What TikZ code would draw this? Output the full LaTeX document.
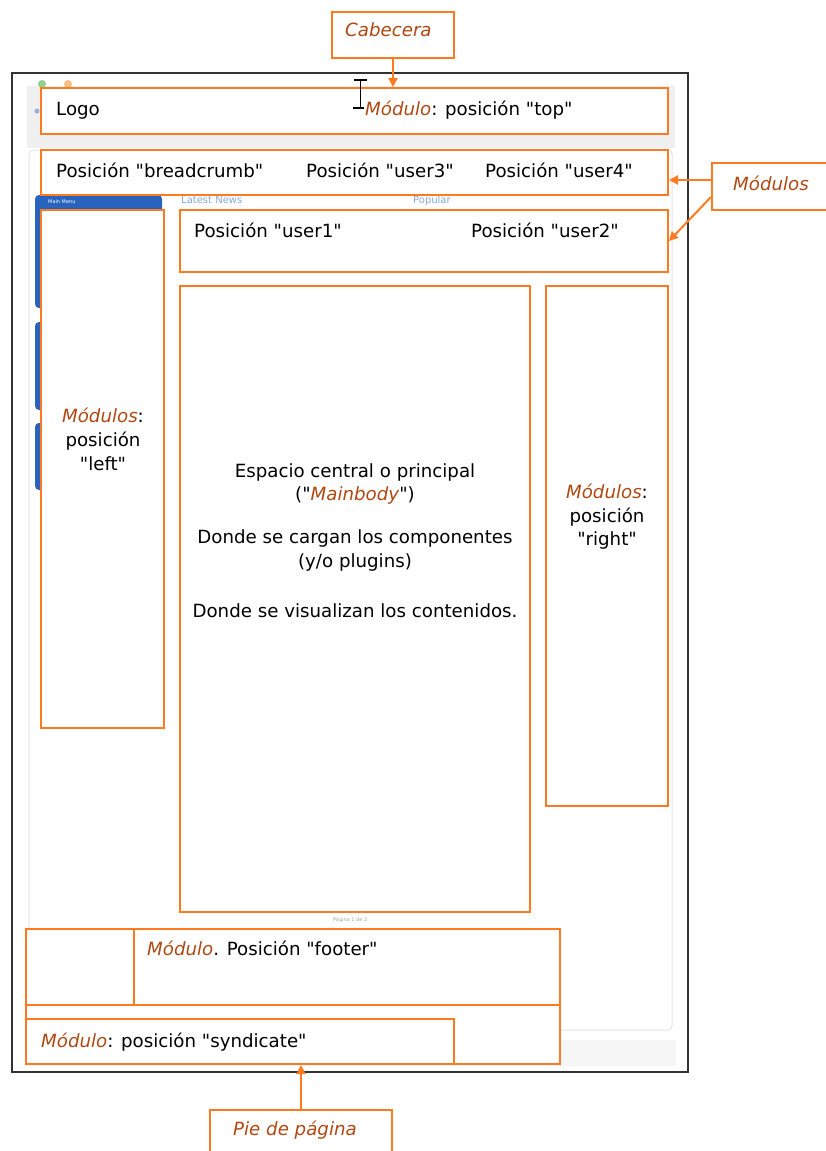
\documentclass[tikz,border=0pt]{standalone}
\usepackage{fontspec}
\setmainfont{DejaVu Sans}[Ligatures=TeXOff]
\usetikzlibrary{arrows.meta}
\definecolor{orng}{RGB}{255,122,32}
\definecolor{brwn}{RGB}{176,72,18}
\definecolor{menublue}{RGB}{40,100,190}
\newcommand{\brit}[1]{\textcolor{brwn}{\textit{#1}}}
\begin{document}
\begin{tikzpicture}[x=1pt,y=-1pt,
  obox/.style={draw=orng, line width=2pt, fill=white, inner sep=0pt},
  txt/.style={inner sep=0pt, anchor=base west, font=\fontsize{18.2}{23.5}\selectfont},
  ctxt/.style={txt, anchor=base},
  arr/.style={draw=orng, line width=2pt, -{Triangle[length=9pt,width=9pt]}},
  tiny/.style={inner sep=0pt, anchor=base west}]
\useasboundingbox[fill=white] (0,0) rectangle (825,1151);
% background screenshot hints
\fill[gray!12] (27,86) rectangle (675,148);
\draw[gray!22, line width=1pt, rounded corners=4pt] (29,150) rectangle (672,1030);
\fill[gray!7] (27,1040) rectangle (676,1066);
\fill[green!60!black!45] (42,84) circle (4);
\fill[orange!50] (68,84) circle (4);
\fill[menublue!50] (37,111) circle (2.5);
\fill[menublue, rounded corners=4pt] (35,195) rectangle (162,308);
\fill[menublue, rounded corners=4pt] (35,322) rectangle (162,410);
\fill[menublue, rounded corners=4pt] (35,423) rectangle (162,490);
\node[tiny, text=white, font=\fontsize{5}{6}\selectfont] (mm) at (48,203) {Main Menu};
\node[tiny, text=menublue!55, font=\fontsize{10}{12}\selectfont] (ln) at (181,203) {Latest News};
\node[tiny, text=menublue!55, font=\fontsize{10}{12}\selectfont] (pp) at (413,203) {Popular};
\node[tiny, text=gray!70, font=\fontsize{5}{6}\selectfont] (pg) at (333,921) {Página 1 de 2};
% page frame
\draw[black!80, line width=2pt] (12,73) rectangle (688,1072);
% callout boxes
\node[obox, minimum width=122pt, minimum height=46pt] (cab) at (393,35) {};
\node[obox, minimum width=128pt, minimum height=47pt] (mods) at (776,186.5) {};
\node[obox, minimum width=182pt, minimum height=55pt] (pie) at (301,1137.5) {};
% layout boxes
\node[obox, minimum width=627pt, minimum height=46pt] (top) at (354.5,111) {};
\node[obox, minimum width=627pt, minimum height=45pt] (bread) at (354.5,172.5) {};
\node[obox, minimum width=488pt, minimum height=62pt] (users) at (424,241) {};
\node[obox, minimum width=123pt, minimum height=518pt] (left) at (102.5,469) {};
\node[obox, minimum width=350pt, minimum height=626pt] (main) at (355,599) {};
\node[obox, minimum width=122pt, minimum height=520pt] (right) at (607,546) {};
\node[obox, minimum width=534pt, minimum height=135pt] (piearea) at (293,996.5) {};
\draw[draw=orng, line width=2pt] (piearea.west |- 0,1005) -- (piearea.east |- 0,1005);
\node[obox, minimum width=426pt, minimum height=76pt] (foot) at (347,967) {};
\node[obox, minimum width=428pt, minimum height=45pt] (synd) at (240,1041.5) {};
% cursor
\draw[black, line width=1.3pt] (354,80) -- (367,80) (360.5,80) -- (360.5,108) (353,108) -- (364,108);
% texts
\node[txt] (tcab) at (345,36) {\brit{Cabecera}};
\node[txt] (tmods) at (733,190) {\brit{Módulos}};
\node[txt] (tpie) at (233,1135) {\brit{Pie de página}};
\node[txt] (tlogo) at (56,115) {Logo};
\node[txt] (ttop) at (365,115) {\brit{Módulo}: posición "top"};
\node[txt] (tbread) at (56,177) {Posición "breadcrumb"};
\node[txt] (tu3) at (306,177) {Posición "user3"};
\node[txt] (tu4) at (485,177) {Posición "user4"};
\node[txt] (tu1) at (194,237) {Posición "user1"};
\node[txt] (tu2) at (471,237) {Posición "user2"};
\node[ctxt] (tl1) at (103,422) {\brit{Módulos}:};
\node[ctxt] (tl2) at (103,446) {posición};
\node[ctxt] (tl3) at (103,470) {"left"};
\node[ctxt] (tr1) at (607,498) {\brit{Módulos}:};
\node[ctxt] (tr2) at (607,522) {posición};
\node[ctxt] (tr3) at (607,545) {"right"};
\node[ctxt] (tm1) at (355,477) {Espacio central o principal};
\node[ctxt] (tm2) at (355,500) {("\brit{Mainbody}")};
\node[ctxt] (tm3) at (355,543) {Donde se cargan los componentes};
\node[ctxt] (tm4) at (355,567) {(y/o plugins)};
\node[ctxt] (tm5) at (355,617) {Donde se visualizan los contenidos.};
\node[txt] (tfoot) at (147,955) {\brit{Módulo}. Posición "footer"};
\node[txt] (tsynd) at (41,1047) {\brit{Módulo}: posición "syndicate"};
% arrows
\draw[arr] (cab.south) -- (cab.south |- top.north);
\draw[arr] ([yshift=6.5pt]mods.west) -- ([yshift=6.5pt]mods.west -| bread.east);
\draw[arr] ([yshift=-10.5pt]mods.west) -- (users.east);
\draw[arr] (pie.north) -- (pie.north |- piearea.south);
\end{tikzpicture}
\end{document}
